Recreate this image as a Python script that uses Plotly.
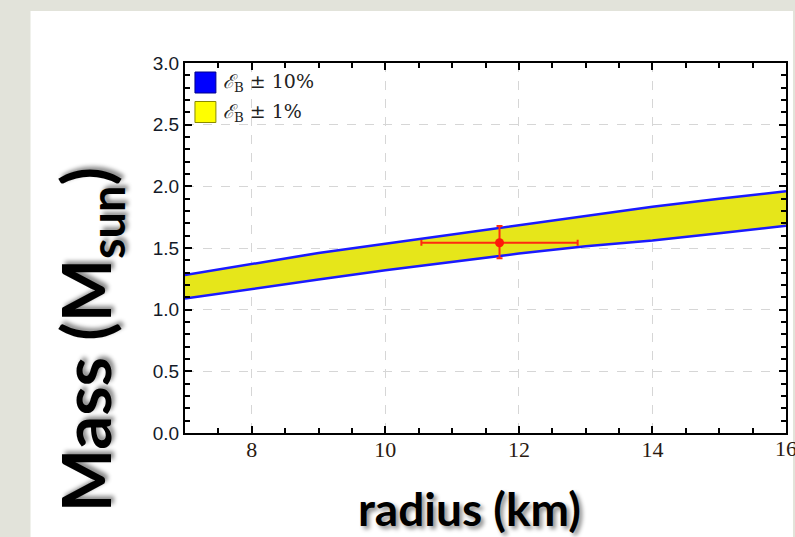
import plotly.graph_objects as go

# ---- data ----
radius_km = [7, 8, 9, 10, 11, 12, 13, 14, 15, 16]
mass_upper = [1.28, 1.37, 1.46, 1.535, 1.61, 1.69, 1.765, 1.835, 1.90, 1.96]
mass_lower = [1.09, 1.17, 1.245, 1.32, 1.39, 1.455, 1.515, 1.56, 1.62, 1.68]

obs_radius = [11.71]
obs_mass = [1.543]
obs_radius_err = [1.17]
obs_mass_err_plus = [0.135]
obs_mass_err_minus = [0.127]

legend_labels = ["<i>ℰ</i><sub>B</sub> ± 10%", "<i>ℰ</i><sub>B</sub> ± 1%"]
legend_colors = ["#0000ff", "#ffff00"]
legend_borders = ["#00008a", "#8a8a00"]

x_ticks = [8, 10, 12, 14, 16]
y_ticks = [0.0, 0.5, 1.0, 1.5, 2.0, 2.5, 3.0]

# ---- layout geometry (pixels) ----
W, H = 795, 537
L, R, T, B = 185, 788, 63, 433


def px(x, y):
    return (x - L) / (R - L), (B - y) / (B - T)


fig = go.Figure()

fig.add_trace(go.Scatter(x=radius_km, y=mass_lower, mode="lines",
                         line=dict(color="#1a1aff", width=2.5),
                         showlegend=False, hoverinfo="skip"))
fig.add_trace(go.Scatter(x=radius_km, y=mass_upper, mode="lines",
                         line=dict(color="#1a1aff", width=2.5),
                         fill="tonexty", fillcolor="#e6e61a",
                         showlegend=False, hoverinfo="skip"))

fig.add_trace(go.Scatter(
    x=obs_radius, y=obs_mass, mode="markers",
    marker=dict(color="#ff1a0a", size=9),
    error_x=dict(type="data", array=obs_radius_err, color="#ff2a10",
                 thickness=2, width=3),
    error_y=dict(type="data", array=obs_mass_err_plus,
                 arrayminus=obs_mass_err_minus, color="#ff2a10",
                 thickness=2, width=3),
    showlegend=False))

shapes = []
# white panel over textured background
x0, y0 = px(30, 11)
x1, y1 = px(W, H)
shapes.append(dict(type="rect", xref="paper", yref="paper", x0=x0, y0=y1,
                   x1=x1, y1=y0, fillcolor="white", line=dict(width=0),
                   layer="below"))

annotations = []
# legend
for i, (lab, col, bc) in enumerate(zip(legend_labels, legend_colors, legend_borders)):
    top = 72 + i * 29.5
    ax0, ay0 = px(195, top)
    ax1, ay1 = px(216, top + 21)
    shapes.append(dict(type="rect", xref="paper", yref="paper", x0=ax0, y0=ay1,
                       x1=ax1, y1=ay0, fillcolor=col, line=dict(color=bc, width=1)))
    tx, ty = px(221, top + 10.5)
    annotations.append(dict(xref="paper", yref="paper", x=tx, y=ty, text=lab,
                            showarrow=False, xanchor="left", yanchor="middle",
                            font=dict(family="DejaVu Serif", size=19, color="#222")))

# axis titles
mx, my = px(90, 340)
annotations.append(dict(xref="paper", yref="paper", x=mx, y=my,
                        text="Mass (M<sub>sun</sub>)", textangle=-90,
                        showarrow=False, xanchor="center", yanchor="middle",
                        font=dict(family="Lato", size=67, color="black", weight="bold",
                                  shadow="3px 3px 4px rgba(0,0,0,0.45)")))
rx, ry = px(470, 508)
annotations.append(dict(xref="paper", yref="paper", x=rx, y=ry,
                        text="radius (km)", showarrow=False,
                        xanchor="center", yanchor="middle",
                        font=dict(family="Lato", size=46, color="black", weight="bold",
                                  shadow="3px 3px 4px rgba(0,0,0,0.45)")))

xtick_font = dict(family="Liberation Serif", size=22, color="#2a1a10")
# last x tick label, clipped by the page edge as in the reference
_, ly = px(0, 448)
annotations.append(dict(xref="x", yref="paper", x=x_ticks[-1], y=ly,
                        text=str(x_ticks[-1]), showarrow=False,
                        xanchor="center", yanchor="middle", font=xtick_font))

axis_common = dict(showline=True, linecolor="black", linewidth=2, mirror="ticks",
                   ticks="inside", tickcolor="black", tickwidth=1.5, ticklen=7,
                   showgrid=True, gridcolor="#d6d6d6", griddash="dash", gridwidth=1.3,
                   zeroline=False)

fig.update_xaxes(range=[7, 16], tickvals=x_ticks,
                 ticktext=[str(v) for v in x_ticks[:-1]] + [""],
                 tickfont=xtick_font, ticklabelstandoff=-4,
                 minor=dict(dtick=0.5, tick0=7, ticks="inside", ticklen=5,
                            tickcolor="black", tickwidth=1.5, showgrid=False),
                 **axis_common)
fig.update_yaxes(range=[0, 3], tickvals=y_ticks, ticktext=[f"{v:.1f}" for v in y_ticks],
                 tickfont=dict(family="Liberation Sans", size=19, color="#141a28"),
                 minor=dict(dtick=0.1, tick0=0, ticks="inside", ticklen=5,
                            tickcolor="black", tickwidth=1.5, showgrid=False),
                 **axis_common)

fig.update_layout(width=W, height=H,
                  margin=dict(l=L, r=W - R, t=T, b=H - B, pad=0),
                  paper_bgcolor="#e2e3da", plot_bgcolor="white",
                  shapes=shapes, annotations=annotations, showlegend=False)

fig.write_html(
    "out.html", config={"displayModeBar": False},
    post_script=(
        "document.documentElement.style.overflow='hidden';"
        "document.body.style.overflow='hidden';"
        "document.body.style.margin='0';document.body.style.padding='0';"
    ))
